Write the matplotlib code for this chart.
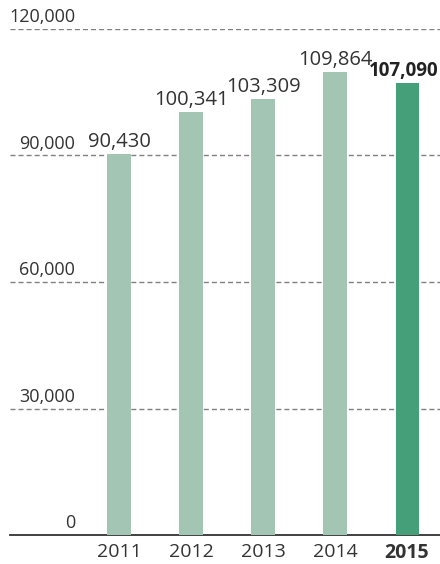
import matplotlib
matplotlib.use("Agg")
from matplotlib import pyplot as plt

years = ["2011", "2012", "2013", "2014", "2015"]
values = [90430, 100341, 103309, 109864, 107090]
yticks = [0, 30000, 60000, 90000, 120000]

light = "#a3c6b4"
dark = "#45a07a"
txt = "#333333"

plt.rcParams['font.family'] = ['Open Sans', 'DejaVu Sans']

fig = plt.figure(figsize=(4.4, 5.64), dpi=100)
ax = fig.add_axes([10/440, 29/564, 430/440, 506/564])

x = list(range(len(years)))
colors = [light]*4 + [dark]
ax.bar(x, values, width=0.32, color=colors, zorder=3)

for i, v in enumerate(values[:-1]):
    ax.text(i, v + 500, f"{v:,}", ha="center", va="bottom", fontsize=14.5, color=txt)
# last value is bold and sits against the right edge
ax.text(4.44, values[-1] + 500, f"{values[-1]:,}", ha="right", va="bottom",
        fontsize=13.5, color="#222222", fontweight="bold")

for t in yticks[1:]:
    ax.axhline(t, color="#808080", lw=1, ls=(0, (3.6, 2.2)), zorder=1)
for t in yticks:
    ax.text(-0.61, t + 600, f"{t:,}", ha="right", va="bottom", fontsize=13, color=txt)

ax.set_xlim(-1.514, 4.458)
ax.set_ylim(0, 120000)
ax.set_yticks([])
ax.set_xticks(x)
ax.set_xticklabels(years, fontsize=14, color=txt)
ax.get_xticklabels()[-1].set_fontweight("bold")
ax.tick_params(axis="x", length=0, pad=6)
for s in ["top", "right", "left"]:
    ax.spines[s].set_visible(False)
ax.spines["bottom"].set_color("#333333")
ax.spines["bottom"].set_linewidth(1.3)

fig.savefig("out.png", dpi=100)
